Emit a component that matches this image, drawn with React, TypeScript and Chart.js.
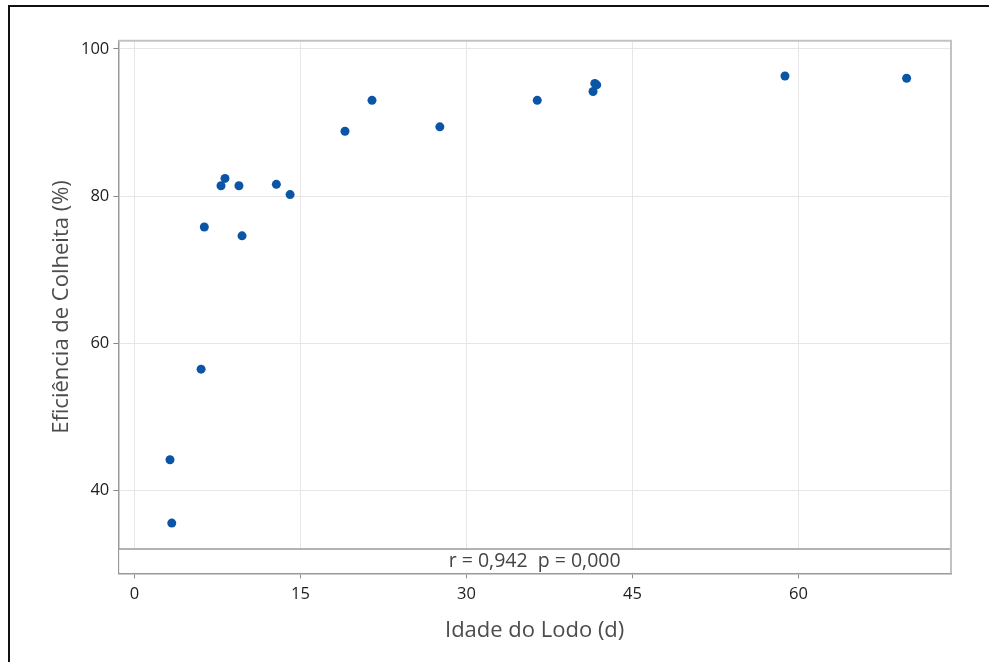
import React, { useEffect, useRef } from "react";
import { Chart, registerables } from "chart.js";

Chart.register(...registerables);

// Sludge age (days) against harvesting efficiency (%)
const sludgeAge = [3.22, 3.38, 6.03, 6.32, 7.83, 8.19, 9.45, 9.73, 12.83, 14.07, 19.03, 21.47, 27.6, 36.4, 41.44, 41.6, 41.77, 58.78, 69.77];
const harvestEff = [44.2, 35.6, 56.5, 75.8, 81.4, 82.4, 81.4, 74.6, 81.6, 80.2, 88.8, 93.0, 89.4, 93.0, 94.2, 95.3, 95.1, 96.3, 96.0];

const xTicks = [0, 15, 30, 45, 60];
const yTicks = [40, 60, 80, 100];
const xRange = [-1.45, 73.78];
const yRange = [28.78, 101.1];
// lower edge of the data region; below it sits the correlation band
const bandTop = 32.08;
const statsText = "r = 0,942  p = 0,000";

const xTitle = "Idade do Lodo (d)";
const yTitle = "Eficiência de Colheita (%)";

const FONT = "'Open Sans', 'Noto Sans', sans-serif";

const framePlugin = {
  id: "frame",
  beforeDatasetsDraw(chart: any) {
    const { ctx, chartArea: a, scales } = chart;
    const yb = scales.y.getPixelForValue(bandTop);
    ctx.save();
    // clear grid inside the stats band
    ctx.fillStyle = "#ffffff";
    ctx.fillRect(a.left + 1, yb, a.right - a.left - 2, a.bottom - yb - 1);
    // band separator
    ctx.strokeStyle = "#9a9a9a";
    ctx.lineWidth = 1.5;
    ctx.beginPath();
    ctx.moveTo(a.left, yb);
    ctx.lineTo(a.right, yb);
    ctx.stroke();
    // top and right edges of the plot box
    ctx.strokeStyle = "#c2c2c2";
    ctx.lineWidth = 2;
    ctx.beginPath();
    ctx.moveTo(a.left, a.top);
    ctx.lineTo(a.right, a.top);
    ctx.lineTo(a.right, a.bottom);
    ctx.stroke();
    // stats text
    ctx.fillStyle = "#444444";
    ctx.font = `19.5px ${FONT}`;
    ctx.textAlign = "center";
    ctx.textBaseline = "middle";
    ctx.fillText(statsText, (a.left + a.right) / 2, (yb + a.bottom) / 2);
    ctx.restore();
  },
  afterDraw(chart: any) {
    const { ctx, width, height } = chart;
    ctx.save();
    ctx.strokeStyle = "#111111";
    ctx.lineWidth = 2;
    ctx.beginPath();
    ctx.moveTo(width, 6);
    ctx.lineTo(9, 6);
    ctx.lineTo(9, height);
    ctx.stroke();
    ctx.restore();
  },
};

export default function App() {
  const canvasRef = useRef<HTMLCanvasElement | null>(null);

  useEffect(() => {
    document.body.style.margin = "0";
    const canvas = canvasRef.current;
    if (!canvas) return;
    const chart = new Chart(canvas, {
      type: "scatter",
      data: {
        datasets: [
          {
            data: sludgeAge.map((x, i) => ({ x, y: harvestEff[i] })),
            backgroundColor: "#0a55a6",
            borderWidth: 0,
            pointRadius: 4.5,
            pointHoverRadius: 4.5,
          },
        ],
      },
      options: {
        responsive: false,
        animation: false,
        devicePixelRatio: 1,
        layout: { padding: { top: 40.7, right: 38, left: 0, bottom: 0 } },
        plugins: {
          legend: { display: false },
          tooltip: { enabled: false },
        },
        scales: {
          x: {
            type: "linear",
            min: xRange[0],
            max: xRange[1],
            afterBuildTicks: (s: any) => {
              s.ticks = xTicks.map((v) => ({ value: v }));
            },
            afterFit: (s: any) => {
              s.height = 88.7;
            },
            grid: { color: "#e6e6e6", lineWidth: 1, tickColor: "#8a8a8a", tickLength: 5 },
            border: { color: "#9a9a9a", width: 1.5 },
            ticks: { color: "#1e1e1e", font: { family: FONT, size: 16.5 }, padding: 6, maxRotation: 0 },
            title: {
              display: true,
              text: xTitle,
              color: "#4c4c4c",
              font: { family: FONT, size: 22 },
              padding: { top: 0, bottom: 18 },
            },
          },
          y: {
            type: "linear",
            min: yRange[0],
            max: yRange[1],
            afterBuildTicks: (s: any) => {
              s.ticks = yTicks.map((v) => ({ value: v }));
            },
            afterFit: (s: any) => {
              s.width = 118.3;
            },
            grid: { color: "#e6e6e6", lineWidth: 1, tickColor: "#8a8a8a", tickLength: 5 },
            border: { color: "#9a9a9a", width: 1.5 },
            ticks: { color: "#1e1e1e", font: { family: FONT, size: 16.5 }, padding: 4 },
            title: {
              display: true,
              text: yTitle,
              color: "#4c4c4c",
              font: { family: FONT, size: 22 },
              padding: { top: 49, bottom: 0 },
            },
          },
        },
      },
      plugins: [framePlugin],
    });
    return () => chart.destroy();
  }, []);

  return (
    <div style={{ width: 989, height: 662, background: "#ffffff" }}>
      <canvas ref={canvasRef} width={989} height={662} />
    </div>
  );
}
